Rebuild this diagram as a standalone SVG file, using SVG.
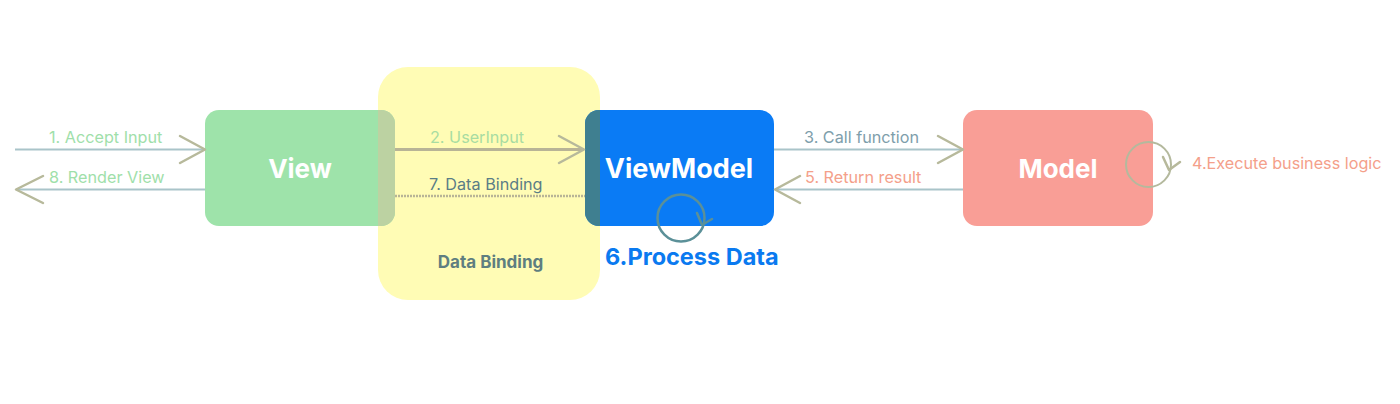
<svg xmlns="http://www.w3.org/2000/svg" width="1400" height="404" viewBox="0 0 1400 404">
<style>
.lbl{font-family:Inter,"Noto Sans","Liberation Sans",sans-serif;font-size:16.2px}
.node{font-family:Inter,"Noto Sans","Liberation Sans",sans-serif;font-size:26px;font-weight:700;fill:#ffffff}
.ln{fill:none;stroke:#a9c4c9;stroke-width:2}
.ah{fill:none;stroke:#b7b99b;stroke-width:2.5;stroke-linecap:round;stroke-linejoin:round}
</style>
<rect width="1400" height="404" fill="#ffffff"/>
<g id="data-binding-zone">
<rect x="378" y="67" width="222" height="233" rx="30" fill="#fffcb5"/>
<text x="490.5" y="268" text-anchor="middle" style="font-family:Inter,'Noto Sans','Liberation Sans',sans-serif;font-size:17px;font-weight:700;fill:#5e7e80">Data Binding</text>
</g>
<g id="view">
<rect x="205" y="110" width="190" height="116" rx="14" fill="#9ee3aa"/>
<path d="M378 110 H381 A14 14 0 0 1 395 124 V212 A14 14 0 0 1 381 226 H378 Z" fill="#bcd2a2"/>
<text x="300" y="178" text-anchor="middle" class="node">View</text>
</g>
<g id="viewmodel">
<rect x="585" y="110" width="189" height="116" rx="14" fill="#0a7bf5"/>
<path d="M600 110 H599 A14 14 0 0 0 585 124 V212 A14 14 0 0 0 599 226 H600 Z" fill="#3f7f90"/>
<text x="679" y="178" text-anchor="middle" class="node" style="font-size:27px">ViewModel</text>
</g>
<g id="model">
<rect x="963" y="110" width="190" height="116" rx="14" fill="#f99e96"/>
<text x="1058" y="178" text-anchor="middle" class="node">Model</text>
</g>
<g id="connectors">
<line x1="15" y1="149.5" x2="205" y2="149.5" class="ln"/>
<polyline points="180,136 205,149.5 180,163" class="ah"/>
<line x1="16" y1="189.5" x2="205" y2="189.5" class="ln"/>
<polyline points="43,176 16,189.5 43,203" class="ah"/>
<line x1="395" y1="149.5" x2="584" y2="149.5" style="stroke:#b8b496;stroke-width:3"/>
<polyline points="559,136 584,149.5 559,163" class="ah"/>
<line x1="395" y1="196" x2="585" y2="196" style="stroke:#b8b496;stroke-width:2.5;stroke-dasharray:2 1"/>
<line x1="774" y1="149.5" x2="963" y2="149.5" class="ln"/>
<polyline points="938,136 963,149.5 938,163" class="ah"/>
<line x1="775" y1="189.5" x2="963" y2="189.5" class="ln"/>
<polyline points="800,176 775,189.5 800,203" class="ah"/>
<circle cx="1148.5" cy="164.5" r="22.5" style="fill:none;stroke:#b4b99d;stroke-width:2"/>
<polyline points="1163,157 1169,170 1180,162" class="ah"/>
<circle cx="681" cy="218" r="23.5" style="fill:none;stroke:#5b9098;stroke-width:2.5"/>
<polyline points="697,213 702,225 712,219" style="fill:none;stroke:#5b9098;stroke-width:2.5;stroke-linecap:round;stroke-linejoin:round"/>
</g>
<g id="labels">
<text x="49" y="143" class="lbl" fill="#9fe0aa">1. Accept Input</text>
<text x="49" y="183" class="lbl" fill="#9fe0aa">8. Render View</text>
<text x="430" y="143" class="lbl" fill="#a8dca2">2. UserInput</text>
<text x="429" y="190" class="lbl" fill="#5a7d86">7. Data Binding</text>
<text x="804" y="143" class="lbl" fill="#7e9eab">3. Call function</text>
<text x="805" y="183" class="lbl" fill="#f4a08a">5. Return result</text>
<text x="1192" y="169" class="lbl" fill="#f4a08a">4.Execute business logic</text>
<text x="605" y="265" style="font-family:Inter,'Noto Sans','Liberation Sans',sans-serif;font-size:23.5px;font-weight:700;fill:#0a7af0">6.Process Data</text>
</g>
</svg>
